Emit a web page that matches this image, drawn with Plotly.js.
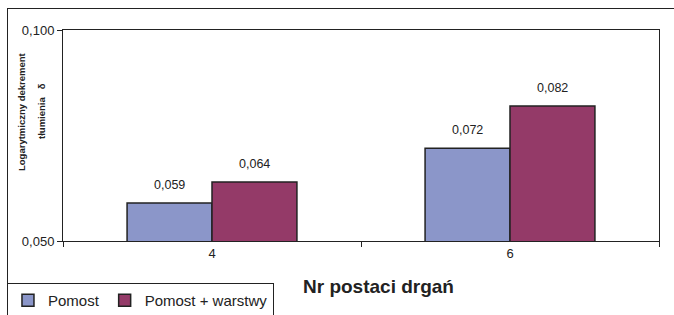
<!DOCTYPE html>
<html>
<head>
<meta charset="utf-8">
<script src="https://cdn.plot.ly/plotly-3.0.1.min.js"></script>
<style>
html,body{margin:0;padding:0;background:#fff;overflow:hidden;}
#frame{position:absolute;left:7px;top:8px;width:800px;height:400px;border-left:1px solid #222;border-top:1px solid #222;}
#chart{position:absolute;left:0;top:0;width:674px;height:315px;}
</style>
</head>
<body>
<div id="frame"></div>
<div id="chart"></div>
<script>
const categories = ['4', '6'];
const seriesNames = ['Pomost', 'Pomost + warstwy'];
const pomost = [0.059, 0.072];
const pomostWarstwy = [0.064, 0.082];
const yTicks = [0.05, 0.1];

const fmt = v => v.toFixed(3).replace('.', ',');
const colors = ['#8B96C9', '#943A68'];
const series = [pomost, pomostWarstwy];

const traces = series.map((vals, i) => ({
  type: 'bar',
  name: seriesNames[i],
  x: categories,
  y: vals,
  marker: {color: colors[i], line: {color: '#222', width: 1.5}},
  hoverinfo: 'none'
}));

const annotations = [];
series.forEach((vals, i) => {
  vals.forEach((v, j) => {
    annotations.push({
      x: j, y: v, xref: 'x', yref: 'y',
      xshift: i === 0 ? -42.5 : 42.5, yshift: 9,
      yanchor: 'bottom', showarrow: false,
      text: fmt(v),
      font: {family: 'Liberation Sans, Arial', size: 12.5, color: '#222'}
    });
  });
});
// x-axis title
annotations.push({
  xref: 'paper', yref: 'paper', x: 0.53, y: -0.215,
  xanchor: 'center', yanchor: 'middle', showarrow: false,
  text: '<b>Nr postaci drgań</b>',
  font: {family: 'Liberation Sans, Arial', size: 19, color: '#222'}
});
// y-axis title (two lines)
annotations.push({
  xref: 'paper', yref: 'paper', x: -0.0705, y: 0.616,
  xanchor: 'center', yanchor: 'middle', showarrow: false, textangle: -90,
  text: '<b>Logarytmiczny dekrement</b>',
  font: {family: 'Liberation Sans, Arial', size: 9.5, color: '#222'}
});
annotations.push({
  xref: 'paper', yref: 'paper', x: -0.037, y: 0.616,
  xanchor: 'center', yanchor: 'middle', showarrow: false, textangle: -90,
  text: '<b>tłumienia\u00a0\u00a0\u00a0δ</b>',
  font: {family: 'Liberation Sans, Arial', size: 9.5, color: '#222'}
});

const layout = {
  width: 674, height: 315,
  margin: {l: 63, r: 15, t: 30, b: 74, autoexpand: false},
  paper_bgcolor: 'rgba(0,0,0,0)',
  plot_bgcolor: '#fff',
  separators: ',.',
  barmode: 'group',
  bargap: 0.43,
  bargroupgap: 0,
  showlegend: true,
  legend: {
    orientation: 'h', x: -0.094, y: -0.199, xanchor: 'left', yanchor: 'top',
    bordercolor: '#222', borderwidth: 1, bgcolor: '#fff',
    font: {family: 'Liberation Sans, Arial', size: 15, color: '#222'},
    itemwidth: 30, tracegroupgap: 0
  },
  xaxis: {
    type: 'category', range: [-0.5, 1.5],
    showline: true, linecolor: '#222', linewidth: 1, mirror: true,
    ticks: 'outside', tickson: 'boundaries', ticklen: 5, tickcolor: '#222',
    tickfont: {family: 'Liberation Sans, Arial', size: 13, color: '#222'},
    showgrid: false, zeroline: false, fixedrange: true
  },
  yaxis: {
    range: [0.05, 0.1],
    tickvals: yTicks, tickformat: '.3f',
    showline: true, linecolor: '#222', linewidth: 1, mirror: true,
    ticks: 'outside', ticklen: 5, tickcolor: '#222',
    tickfont: {family: 'Liberation Sans, Arial', size: 13, color: '#222'},
    showgrid: false, zeroline: false, fixedrange: true
  },
  annotations: annotations
};

Plotly.newPlot('chart', traces, layout, {displayModeBar: false, staticPlot: true});
</script>
</body>
</html>
